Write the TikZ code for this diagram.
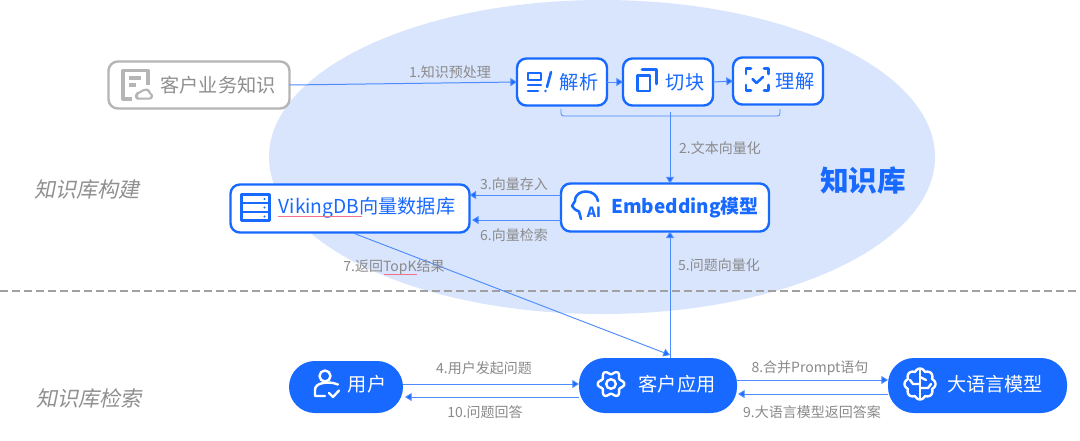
\documentclass[tikz,border=0pt]{standalone}
\usepackage{fontspec}
\setmainfont{Noto Sans CJK SC}
\newfontfamily\slantcjk[FakeSlant=0.2]{Noto Sans CJK SC}
\usetikzlibrary{arrows.meta}
\definecolor{brand}{HTML}{1769FF}
\definecolor{halo}{HTML}{D9E5FD}
\definecolor{linkc}{HTML}{4D8BFF}
\definecolor{labelc}{HTML}{8A8A8A}
\definecolor{srcgray}{HTML}{B5B5B5}
\definecolor{headgray}{HTML}{8F8F8F}
\definecolor{squiggle}{HTML}{F4708C}
\tikzset{
  card/.style={draw=brand,line width=1.8pt,fill=white,rounded corners=7pt,inner sep=0pt,outer sep=0pt},
  srccard/.style={card,draw=srcgray},
  pill/.style={fill=brand,rounded corners=19.5pt,inner sep=0pt,outer sep=0pt},
  cardtext/.style={text=brand,font=\fontsize{14.4pt}{16pt}\selectfont,inner sep=0pt},
  pilltext/.style={text=white,font=\fontsize{14.4pt}{16pt}\selectfont,inner sep=0pt},
  lab/.style={text=labelc,font=\fontsize{10.5pt}{12pt}\selectfont,inner sep=0pt},
  link/.style={draw=linkc,line width=0.75pt,-{Triangle[length=5pt,width=6pt,fill=brand]}},
  plainlink/.style={draw=linkc,line width=0.6pt},
  ico/.style={draw=brand,line width=1.9pt,line cap=round,line join=round},
  wico/.style={draw=white,line width=1.8pt,line cap=round,line join=round},
  gico/.style={draw=srcgray,line width=2.4pt,line join=round},
}
\begin{document}
\begin{tikzpicture}[x=0.75pt,y=-0.75pt]
\useasboundingbox (0,0) rectangle (1080,440);
\fill[white] (0,0) rectangle (1080,440);
\fill[halo] (602,157) ellipse [x radius=333,y radius=157];
\draw[headgray!85,line width=1.2pt,dash pattern=on 6pt off 3pt] (0,291) -- (1080,291);

% boxes
\node[srccard,minimum width=181*0.75pt,minimum height=47*0.75pt] (src) at (199,85) {};
\node[card,minimum width=90*0.75pt,minimum height=47*0.75pt] (jx) at (562,82) {};
\node[card,minimum width=90*0.75pt,minimum height=47*0.75pt] (qk) at (668,82) {};
\node[card,minimum width=90*0.75pt,minimum height=47*0.75pt] (lj) at (778,81) {};
\node[card,minimum width=239*0.75pt,minimum height=48*0.75pt] (vdb) at (350,208.5) {};
\node[card,minimum width=208*0.75pt,minimum height=48*0.75pt] (emb) at (665,207.5) {};
\node[pill,minimum width=114*0.75pt,minimum height=52*0.75pt] (usr) at (346,387) {};
\node[pill,minimum width=158*0.75pt,minimum height=55*0.75pt] (app) at (658,385.5) {};
\node[pill,minimum width=179*0.75pt,minimum height=55*0.75pt] (llm) at (977.5,385.5) {};

% connectors
\draw[link] (src.east) -- (jx.west);
\draw[link] (jx.east) -- (qk.west);
\draw[link] (qk.east) -- (lj.west);
\coordinate (brl) at (561,109);
\coordinate (brr) at (780,109);
\coordinate (brm) at (670,112);
\coordinate (brj) at (670,116);
\draw[plainlink,rounded corners=2pt] (brl) -- (561,116) -- (780,116) -- (brr);
\draw[plainlink] (brm) -- (brj);
\draw[link] (brj) -- (brj |- emb.north);
\draw[link] (emb.west |- 0,195) -- (vdb.east |- 0,195);
\draw[link] (emb.west |- 0,220) -- (472,220);
\draw[link] (brj |- app.north) -- (brj |- emb.south);
\coordinate (sevenA) at (353,233);
\coordinate (sevenB) at (670,355);
\draw[link,line width=0.7pt] (sevenA) -- (sevenB);
\draw[link] (usr.east |- 0,384) -- (app.west |- 0,384);
\draw[link] (app.west |- 0,397) -- (405,397);
\draw[link] (app.east |- 0,380) -- (llm.west |- 0,380);
\draw[link] (llm.west |- 0,394) -- (738,394);

% box text
\node[cardtext,text=headgray,anchor=center] (srct) at (218,85) {客户业务知识};
\node[cardtext] (jxt) at (579,82) {解析};
\node[cardtext] (qkt) at (685,82) {切块};
\node[cardtext] (ljt) at (795,81) {理解};
\node[cardtext] (vdbt) at (367,208) {VikingDB向量数据库};
\node[cardtext,font=\fontsize{14.2pt}{16pt}\selectfont\bfseries] (embt) at (685,208) {Embedding模型};
\node[pilltext] (usrt) at (367,384) {用户};
\node[pilltext] (appt) at (677,384) {客户应用};
\node[pilltext] (llmt) at (995,384) {大语言模型};

% labels
\node[lab] (l1) at (450,72) {1.知识预处理};
\node[lab] (l2) at (720,148) {2.文本向量化};
\node[lab] (l3) at (514,184) {3.向量存入};
\node[lab] (l6) at (514,235) {6.向量检索};
\node[lab] (l7) at (394,267) {7.返回TopK结果};
\node[lab] (l5) at (719,265) {5.问题向量化};
\node[lab] (l4) at (484,368) {4.用户发起问题};
\node[lab] (l10) at (485,412) {10.问题回答};
\node[lab] (l8) at (810,368) {8.合并Prompt语句};
\node[lab] (l9) at (812,412) {9.大语言模型返回答案};
\node[text=brand,font=\fontsize{21.5pt}{24pt}\selectfont\bfseries,inner sep=0pt] (kb) at (863,181) {知识库};
\node[text=headgray,font=\fontsize{15.8pt}{18pt}\selectfont\slantcjk,inner sep=0pt] (h1) at (87,190) {知识库构建};
\node[text=headgray,font=\fontsize{15.8pt}{18pt}\selectfont\slantcjk,inner sep=0pt] (h2) at (89,398) {知识库检索};

% spell-check squiggles
\draw[squiggle,line width=0.5pt] (278,216.5) -- (362,216.5);
\draw[squiggle,line width=0.5pt] (384,274.5) -- (417,274.5);

% source icon
\draw[gico] (132,99) -- (123,99) -- (123,70.5) -- (148,70.5) -- (148,85);
\draw[gico] (129,78) -- (141,78) (129,85) -- (136,85);
\fill[srcgray] (137,99.5) to[out=180,in=270] (135,95) to[out=90,in=200] (140,91) to[out=30,in=170] (147,88.5) to[out=0,in=110] (151,93) to[out=10,in=90] (153,96.5) to[out=270,in=0] (150,99.5) -- cycle;
\fill[white] (139,97.5) to[out=180,in=270] (138,95.5) to[out=90,in=200] (141,93) to[out=30,in=170] (146,91) to[out=0,in=110] (149,94) to[out=10,in=90] (150.5,96) to[out=270,in=0] (149.5,97.5) -- cycle;

% parse icon
\draw[ico] (528,85) -- (541,85) (528,91) -- (538,91) (528,80) -- (541,80) -- (541,73) -- (528,73) -- cycle;
\draw[ico] (551,72) -- (547,87);
\fill[brand] (545.5,91) circle (1.4);

% chunk icon
\draw[ico] (637.5,75.5) rectangle (650,91);
\draw[ico] (642,69.5) -- (656.5,69.5) -- (656.5,84);

% understand icon
\draw[ico] (746,74) -- (746,68.5) -- (751,68.5) (764,68.5) -- (768.5,68.5) -- (768.5,74)
  (746,85) -- (746,90.5) -- (751,90.5) (764,90.5) -- (768.5,90.5) -- (768.5,85);
\draw[ico] (752.5,79) -- (756.5,83) -- (763,77);

% database icon
\draw[ico,line width=2.1pt] (241.5,194.5) rectangle (269.5,220.5);
\draw[ico,line width=2.1pt] (241.5,203) -- (269.5,203) (241.5,212) -- (269.5,212);
\fill[brand] (264.5,199) circle (1.2) (264.5,207.5) circle (1.2) (264.5,216.5) circle (1.2);

% AI head icon
\draw[ico] (581,219) -- (579,211.5) -- (575,209.5) -- (572,206) -- (575,201)
  .. controls (575,194) and (581,191.5) .. (586,191.5)
  .. controls (592,191.5) and (597,195) .. (598,201);
\node[text=brand,font=\fontsize{10.5pt}{11pt}\selectfont\bfseries,inner sep=0pt] (ait) at (594,212) {AI};

% user icon
\draw[wico] (325,376) circle (5.5);
\draw[wico] (338,384.5) .. controls (333,382.5) and (328,382) .. (323,383)
  .. controls (317,384) and (315,387) .. (315,390) -- (315,396) -- (325,396);
\draw[wico] (329,393) -- (333,397) -- (339,390.5);

% gear icon
\draw[wico] plot[domain=0:360,samples=97,smooth] ({611+(11.5+1.8*cos(6*\x))*cos(\x)},{384+(11.5+1.8*cos(6*\x))*sin(\x)}) -- cycle;
\draw[wico] (611,384) circle (4.8);

% brain icon
\draw[wico] plot[domain=0:360,samples=121,smooth] ({920+(13+2.5*abs(cos(4*\x)))*cos(\x)},{384+(13+2.5*abs(cos(4*\x)))*sin(\x)}) -- cycle;
\draw[wico] (920,370) -- (920,398);
\draw[wico] (920,384) -- (913,384) -- (910,380) (920,388) -- (928,388) -- (931,384) (920,377) -- (926,380);
\end{tikzpicture}
\end{document}
